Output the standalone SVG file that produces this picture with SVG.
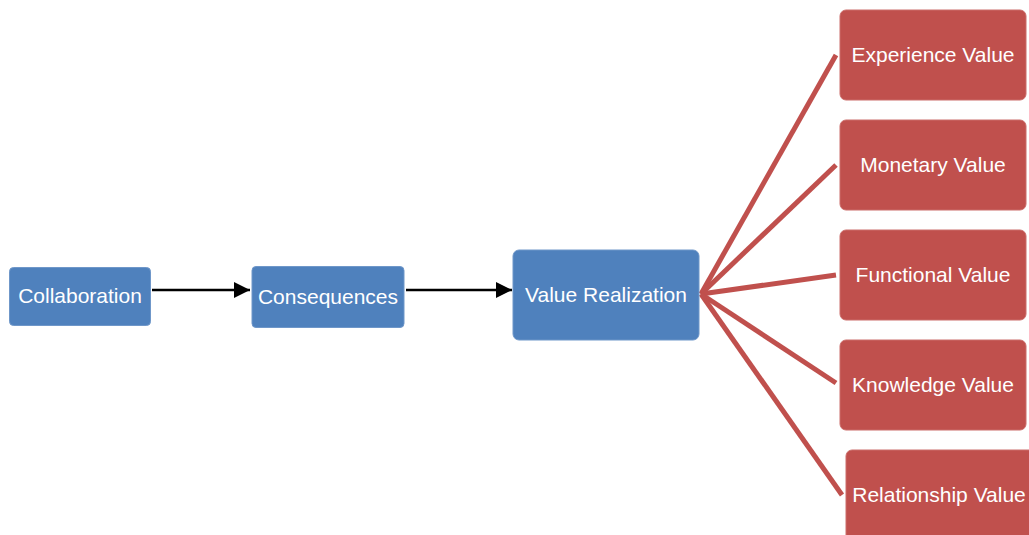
<svg xmlns="http://www.w3.org/2000/svg" width="1029" height="535" viewBox="0 0 1029 535">
  <style>
    .blue { fill: #4F81BD; stroke: #6F97C9; stroke-width: 1; }
    .red { fill: #C0504D; stroke: #CB6D6A; stroke-width: 1; }
    .label { font-family: "Liberation Sans", Arial, sans-serif; font-size: 21px; fill: #FFFFFF; text-anchor: middle; }
    .flow { stroke: #000000; stroke-width: 2.5; fill: none; }
    .fan { stroke: #C0504D; stroke-width: 5; fill: none; }
  </style>
  <defs>
    <marker id="arrow" viewBox="0 0 16 16" refX="16" refY="8" markerWidth="16" markerHeight="16" markerUnits="userSpaceOnUse" orient="auto">
      <path d="M0,0 L16,8 L0,16 Z" fill="#000000"/>
    </marker>
  </defs>

  <g id="connectors">
    <line class="flow" x1="152" y1="290" x2="250" y2="290" marker-end="url(#arrow)"/>
    <line class="flow" x1="406" y1="290" x2="512" y2="290" marker-end="url(#arrow)"/>
    <line class="fan" x1="701" y1="294" x2="836" y2="55"/>
    <line class="fan" x1="701" y1="294" x2="836" y2="165"/>
    <line class="fan" x1="701" y1="294" x2="836" y2="275"/>
    <line class="fan" x1="701" y1="294" x2="836" y2="383"/>
    <line class="fan" x1="701" y1="294" x2="842" y2="495"/>
  </g>

  <g id="collaboration">
    <rect class="blue" x="9.5" y="267.5" width="141" height="58" rx="4"/>
    <text class="label" x="80" y="303">Collaboration</text>
  </g>
  <g id="consequences">
    <rect class="blue" x="252" y="266.5" width="152" height="61" rx="4"/>
    <text class="label" x="328" y="304">Consequences</text>
  </g>
  <g id="value-realization">
    <rect class="blue" x="513" y="250" width="186" height="90" rx="6"/>
    <text class="label" x="606" y="302">Value Realization</text>
  </g>

  <g id="experience-value">
    <rect class="red" x="840" y="10" width="186" height="90" rx="6"/>
    <text class="label" x="933" y="62">Experience Value</text>
  </g>
  <g id="monetary-value">
    <rect class="red" x="840" y="120" width="186" height="90" rx="6"/>
    <text class="label" x="933" y="172">Monetary Value</text>
  </g>
  <g id="functional-value">
    <rect class="red" x="840" y="230" width="186" height="90" rx="6"/>
    <text class="label" x="933" y="282">Functional Value</text>
  </g>
  <g id="knowledge-value">
    <rect class="red" x="840" y="340" width="186" height="90" rx="6"/>
    <text class="label" x="933" y="392">Knowledge Value</text>
  </g>
  <g id="relationship-value">
    <rect class="red" x="846" y="450" width="190" height="95" rx="6"/>
    <text class="label" x="939" y="502">Relationship Value</text>
  </g>
</svg>
